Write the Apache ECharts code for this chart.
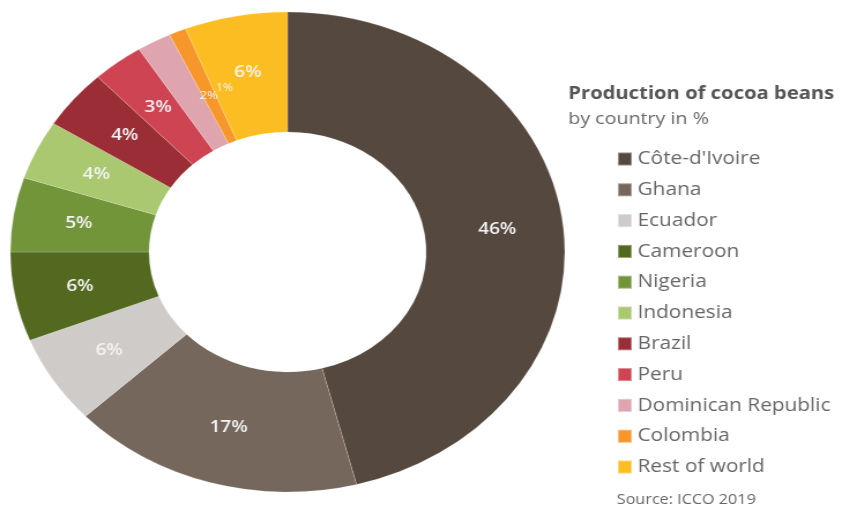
<!DOCTYPE html>
<html>
<head>
<meta charset="utf-8">
<script src="https://cdn.jsdelivr.net/npm/echarts@6/dist/echarts.min.js"></script>
<style>
html,body{margin:0;padding:0;background:#fff;overflow:hidden;}
#wrap{width:864px;height:509px;overflow:hidden;}
#chart{width:748px;height:509px;transform:scaleX(1.155);transform-origin:0 0;}
</style>
</head>
<body>
<div id="wrap"><div id="chart"></div></div>
<script>
const countries = ['Côte-d\'Ivoire','Ghana','Ecuador','Cameroon','Nigeria','Indonesia','Brazil','Peru','Dominican Republic','Colombia','Rest of world'];
const shares = [46,17,6,6,5,4,4,3,2,1,6];
const colors = ['#54483f','#76675c','#cfcbc8','#53691f','#73953a','#a9c870','#9a2d35','#cf4452','#dfa5ae','#f7962a','#fbbd22'];
const titleText = 'Production of cocoa beans';
const subtitleText = 'by country in %';
const sourceText = 'Source: ICCO 2019';

const font = '"Open Sans", "Noto Sans", sans-serif';
const chart = echarts.init(document.getElementById('chart'));
const data = countries.map((c,i)=>{
  const d = {name:c, value:shares[i], itemStyle:{color:colors[i]}};
  if (shares[i] === 2) d.label = {fontSize:11.5, fontWeight:'normal'};
  if (shares[i] === 1) d.label = {fontSize:10.5, fontWeight:'normal'};
  return d;
});
chart.setOption({
  animation:false,
  title:[
    {text:titleText, subtext:subtitleText, left:487, top:80, itemGap:8,
     textStyle:{fontFamily:font, fontSize:17.5, fontWeight:'bold', color:'#555555'},
     subtextStyle:{fontFamily:font, fontSize:17, color:'#666666'}},
    {text:sourceText, left:529, top:488,
     textStyle:{fontFamily:font, fontSize:14, fontWeight:'normal', color:'#666666'}}
  ],
  legend:{
    orient:'vertical', left:529, top:144,
    itemWidth:12, itemHeight:13, itemGap:10.8,
    icon:'rect',
    textStyle:{fontFamily:font, fontSize:18, color:'#666666', lineHeight:20},
    data:countries
  },
  series:[{
    type:'pie',
    center:[249,252],
    radius:[120,240],
    startAngle:90,
    clockwise:true,
    avoidLabelOverlap:false,
    itemStyle:{borderColor:'rgba(255,255,255,0.35)', borderWidth:0.5},
    label:{show:true, position:'inside', formatter:'{c}%', color:'#f4f4f4',
      fontFamily:font, fontSize:16.5, fontWeight:600},
    labelLayout:function(p){
      if (p.dataIndex === 8) return {dx:20, dy:4, hideOverlap:false};
      if (p.dataIndex === 9) return {dx:18, dy:4, hideOverlap:false};
      return {hideOverlap:false};
    },
    labelLine:{show:false},
    emphasis:{disabled:true},
    data:data
  }]
});
</script>
</body>
</html>
